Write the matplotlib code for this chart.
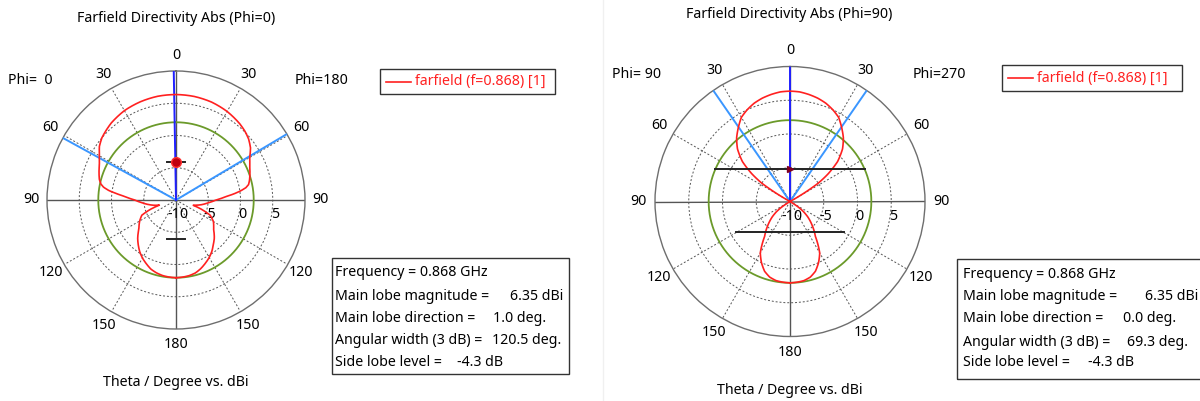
import numpy as np
import matplotlib
matplotlib.use('Agg')
import matplotlib.pyplot as plt
from matplotlib.patches import Rectangle
from matplotlib.lines import Line2D

plt.rcParams['font.family'] = ['Noto Sans', 'DejaVu Sans']
FS = 10.2

W, H = 1200, 401

# ------------------------- 方向图数据 (dBi) -------------------------
# Phi=0 切面：theta 从 0 到 180，左半边 Phi=0，右半边 Phi=180
theta_cut0 = [0, 10, 20, 30, 40, 45, 50, 55, 60, 65, 70, 75, 78, 80, 82, 84, 86, 90, 95, 100,
              104, 107, 110, 114, 120, 128, 135, 140, 145, 150, 155, 160, 165, 170, 175, 180]
db_phi0 = [6.35, 6.33, 6.2, 6.0, 5.6, 5.3, 5.0, 4.5, 3.7, 3.1, 2.7, 2.3, 1.9, 1.4, 0.5, -0.8,
           -2.0, -3.6, -4.8, -5.8, -6.6, -7.3, -5.8, -4.2, -3.5, -2.7, -1.6, -0.9, -0.2, 0.4,
           0.9, 1.4, 1.7, 1.9, 2.0, 2.05]
db_phi180 = [6.35, 6.3, 6.15, 5.85, 5.4, 5.1, 4.7, 4.1, 3.2, 2.6, 2.2, 1.8, 1.5, 1.0, 0.1, -1.0,
             -2.2, -3.8, -5.0, -5.9, -6.7, -7.2, -5.8, -4.2, -3.3, -2.6, -1.6, -1.0, -0.3, 0.3,
             0.8, 1.3, 1.7, 1.9, 2.0, 2.05]

# Phi=90 切面：左半边 Phi=90，右半边 Phi=270（对称）
theta_cut90 = [0, 5, 10, 15, 20, 25, 30, 35, 40, 45, 50, 54, 57, 59, 61, 90, 121, 124, 127,
               131, 137, 144, 150, 155, 160, 165, 170, 175, 180]
db_phi90 = [6.35, 6.3, 6.1, 5.85, 5.5, 5.0, 4.4, 3.35, 2.3, 1.0, -0.8, -3.0, -5.0, -7.5, -10,
            -10, -10, -8.5, -7.5, -6.5, -5.2, -3.6, -1.2, 0.0, 1.0, 1.6, 1.9, 2.0, 2.05]
db_phi270 = db_phi90

# 结果参数
freq_ghz = 0.868
main_mag = [6.35, 6.35]
main_dir = [1.0, 0.0]
ang_width = [120.5, 69.3]
sll = [-4.3, -4.3]

# 标记横线：(半径位置 dB, 半长度 dB单位)，上/下
bars = [
    [(-4.1, 1.4), (-4.0, 1.4)],
    [(-5.2, None), (-5.5, 8.0)],
]
marker_r = [-4.1, -5.2]

ring_ticks = [-10, -5, 0, 5]
angle_ticks = [0, 30, 60, 90, 120, 150, 180, -150, -120, -90, -60, -30]

titles = ['Farfield Directivity Abs (Phi=0)', 'Farfield Directivity Abs (Phi=90)']
phi_left = ['Phi=  0', 'Phi= 90']
phi_right = ['Phi=180', 'Phi=270']

RMIN, RMAX = -10, 10


def fx(px):
    return px / W


def fy(py):
    return 1 - py / H


def chord(ax, r_db, half, up, **kw):
    # 水平横线：在极坐标中算两端点，直线段连接
    u = r_db - RMIN
    ue = np.hypot(u, half)
    a = np.arctan2(half, u)
    if up:
        th = [-a, a]
    else:
        th = [np.pi + a, np.pi - a]
    ax.plot(th, [ue + RMIN] * 2, **kw)


def draw_polar(ax, theta, db_left, db_right, k):
    th = np.radians(np.array(theta))
    full_th = np.concatenate([-th[::-1], th[1:]])
    full_db = np.concatenate([np.array(db_left)[::-1], np.array(db_right)[1:]])
    full_db = np.maximum(full_db, RMIN)

    ax.set_theta_zero_location('N')
    ax.set_theta_direction(-1)
    ax.set_rlim(RMIN, RMAX)
    ax.set_rticks([-5, 0, 5])
    ax.set_yticklabels([])
    ax.set_xticks(np.radians([30, 60, 120, 150, 210, 240, 300, 330]))
    ax.set_xticklabels([])
    ax.tick_params(length=0)
    ax.grid(True, color='#555555', linestyle=(0, (2, 2)), linewidth=0.7)
    ax.spines['polar'].set_color('#6e6e6e')
    ax.spines['polar'].set_linewidth(1.0)

    # 坐标轴十字线
    ax.plot([0, np.pi], [RMAX, RMAX], color='#555555', lw=1.0, zorder=2)
    ax.plot([np.pi / 2, 3 * np.pi / 2], [RMAX, RMAX], color='#555555', lw=1.0, zorder=2)

    # 副瓣电平圆
    lvl = main_mag[k] + sll[k]
    circ = np.linspace(0, 2 * np.pi, 361)
    ax.plot(circ, [lvl] * len(circ), color='#6b9a2a', lw=1.3, zorder=3)

    # 3 dB 波束宽度线与主瓣方向
    d = -main_dir[k]
    for e in (d - ang_width[k] / 2, d + ang_width[k] / 2):
        ax.plot([np.radians(e)] * 2, [RMIN, RMAX], color='#3a96ff', lw=1.4, zorder=4)
    ax.plot([np.radians(d)] * 2, [RMIN, RMAX], color='#2020ff', lw=1.4, zorder=5)

    # 方向图，按极坐标细分绘制使曲线圆滑
    ln, = ax.plot(full_th, full_db, color='#ff2020', lw=1.2, zorder=6)
    ln.get_path()._interpolation_steps = 24

    # 横线标记
    (ru, hu), (rl, hl) = bars[k]
    if hu is None:
        hu = np.sqrt((lvl - RMIN) ** 2 - (ru - RMIN) ** 2)
    chord(ax, ru, hu, True, color='#222222', lw=1.4, zorder=7)
    chord(ax, rl, hl, False, color='#222222', lw=1.4, zorder=7)
    if k == 0:
        ax.plot([0], [marker_r[k]], 'o', ms=7, mfc='#c00010', mec='#ff3030', zorder=8)
    else:
        ax.plot([0], [marker_r[k]], '>', ms=5, mfc='#800020', mec='#800020', zorder=8)

    # 角度标注
    for a in angle_ticks:
        ax.text(np.radians(a), 12.4, str(abs(a)), ha='center', va='center', fontsize=FS)
    # 径向刻度
    for v in ring_ticks:
        ax.annotate(str(v), (np.pi / 2, v), xytext=(2, -15), textcoords='offset pixels',
                    ha='center', va='center', fontsize=FS)


fig = plt.figure(figsize=(W / 100, H / 100), dpi=100)

ax1 = fig.add_axes([fx(176 - 129), fy(200 + 129), 258 / W, 258 / H], projection='polar')
draw_polar(ax1, theta_cut0, db_phi0, db_phi180, 0)
ax2 = fig.add_axes([fx(790 - 135), fy(201.5 + 135), 270 / W, 270 / H], projection='polar')
draw_polar(ax2, theta_cut90, db_phi90, db_phi270, 1)

# 标题与文字
fig.text(fx(176), fy(19), titles[0], ha='center', va='center', fontsize=FS)
fig.text(fx(789), fy(14), titles[1], ha='center', va='center', fontsize=FS)
fig.text(fx(8), fy(80), phi_left[0], ha='left', va='center', fontsize=FS)
fig.text(fx(349), fy(80), phi_right[0], ha='right', va='center', fontsize=FS)
fig.text(fx(612), fy(75), phi_left[1], ha='left', va='center', fontsize=FS)
fig.text(fx(913), fy(75), phi_right[1], ha='left', va='center', fontsize=FS)
fig.text(fx(176), fy(383), 'Theta / Degree vs. dBi', ha='center', va='center', fontsize=FS)
fig.text(fx(790), fy(391), 'Theta / Degree vs. dBi', ha='center', va='center', fontsize=FS)

# 图例
for (x0, y0, x1, y1) in [(380, 69, 555, 94), (1002, 65, 1182, 91)]:
    fig.patches.append(Rectangle((fx(x0), fy(y1)), (x1 - x0) / W, (y1 - y0) / H,
                                 transform=fig.transFigure, fill=False, ec='#333333', lw=1.0))
    ym = (y0 + y1) / 2
    fig.lines.append(Line2D([fx(x0 + 6), fx(x0 + 31)], [fy(ym), fy(ym)],
                            transform=fig.transFigure, color='#ff2020', lw=1.2))
    fig.text(fx(x0 + 35), fy(ym), 'farfield (f=%.3f) [1]' % freq_ghz, color='#ff2020',
             ha='left', va='center', fontsize=FS)

# 参数框
boxes = [(332, 258, 569, 374, 335, [273, 296, 318, 341, 363], [None, 563, 493, 492, 457]),
         (957, 259, 1205, 379, 963, [275, 297, 319, 342, 363], [None, 1198, 1123, 1127, 1088])]
for k, (x0, y0, x1, y1, tx, ys, vx) in enumerate(boxes):
    fig.patches.append(Rectangle((fx(x0), fy(y1)), (x1 - x0) / W, (y1 - y0) / H,
                                 transform=fig.transFigure, fill=False, ec='#333333', lw=1.0))
    labels = ['Frequency = %.3f GHz' % freq_ghz, 'Main lobe magnitude =',
              'Main lobe direction =', 'Angular width (3 dB) =', 'Side lobe level =']
    values = [None, '%.2f dBi' % main_mag[k], '%.1f deg.' % main_dir[k],
              '%.1f deg.' % ang_width[k], '%.1f dB' % sll[k]]
    for i in range(5):
        fig.text(fx(tx), fy(ys[i]), labels[i], ha='left', va='center', fontsize=FS)
        if values[i] is not None:
            ha = 'right' if i == 1 else 'left'
            fig.text(fx(vx[i]), fy(ys[i]), values[i], ha=ha, va='center', fontsize=FS)

# 面板分隔
fig.lines.append(Line2D([fx(603), fx(603)], [0, 1], transform=fig.transFigure, color='#f0f0f0', lw=1))

fig.savefig('out.png', dpi=100, facecolor='white')
